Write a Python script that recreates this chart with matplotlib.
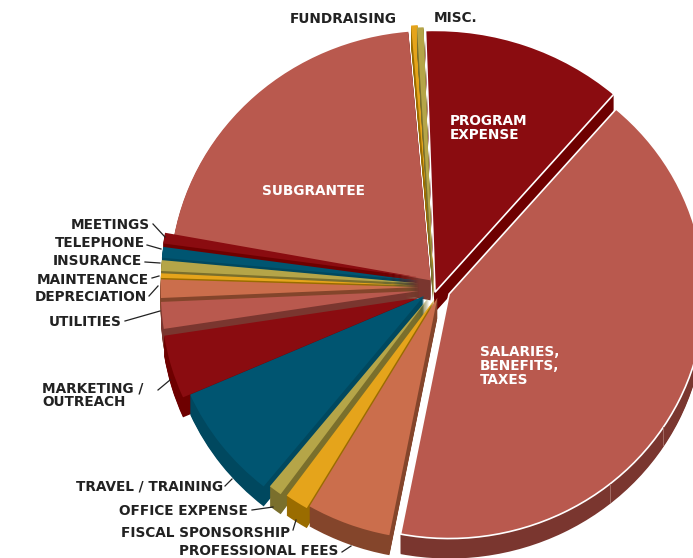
import matplotlib
matplotlib.use("Agg")
import numpy as np
import matplotlib.pyplot as plt
from matplotlib.patches import Wedge

W, H = 693, 558

# slices, clockwise starting at the top
names = ["PROGRAM\nEXPENSE", "SALARIES,\nBENEFITS,\nTAXES", "PROFESSIONAL FEES", "FISCAL SPONSORSHIP",
         "OFFICE EXPENSE", "TRAVEL / TRAINING", "MARKETING /\nOUTREACH", "UTILITIES", "DEPRECIATION",
         "MAINTENANCE", "INSURANCE", "TELEPHONE", "MEETINGS", "SUBGRANTEE", "FUNDRAISING", "MISC."]
values = [11.9, 41.7, 5.4, 1.5, 0.85, 7.6, 4.15, 1.75, 1.2, 0.3, 0.7, 0.7, 0.7, 20.75, 0.4, 0.4]
explode = [0.012, 0.065, 0.05, 0.04, 0.03, 0.02, 0.04, 0.04, 0.04, 0.04, 0.04, 0.04, 0.04, 0.02, 0.02, 0.01]
# per slice fine placement in pixels (right, down) and radius factor, the original has some perspective
nudge = [(2, 8), (2, 0), (10, -1), (9, 3), (2, 4), (-4, 6), (-3, 8), (-3, 3), (-3, 0), (-3, -1), (-3, -3),
         (-3, -5), (-3, -8), (2, -3), (2, -3), (1, -3)]
scale = [1.06, 0.99, 0.98, 0.985, 0.985, 0.99, 1.0, 1.0, 1.0, 1.0, 1.0, 1.0, 1.0, 1.01, 1.03, 1.03]

red, dark, teal, olive, orange, clay = "#B9594E", "#8A0C10", "#005571", "#B5A548", "#E5A41B", "#CB6E4C"
side_red, side_dark, side_teal, side_olive, side_orange, side_clay = "#7A362F", "#6E0000", "#00485F", "#7A6F2C", "#9A6C00", "#84452B"
colors = [dark, red, clay, orange, olive, teal, dark, red, clay, orange, olive, teal, dark, red, orange, olive]
sides = [side_dark, side_red, side_clay, side_orange, side_olive, side_teal, side_dark, side_red, side_clay,
         side_orange, side_olive, side_teal, side_dark, side_red, side_orange, side_olive]

# label position in pixels (x, y, ha), leader line start and end in pixels
label_pos = {
    "MEETINGS": (150, 225, "right", (153, 224), (165, 237)),
    "TELEPHONE": (145, 243, "right", (147, 245), (161, 249)),
    "INSURANCE": (142, 261, "right", (145, 262), (160, 263)),
    "MAINTENANCE": (149, 280, "right", (152, 278), (159, 276)),
    "DEPRECIATION": (147, 297, "right", (149, 296), (158, 286)),
    "UTILITIES": (122, 322, "right", (125, 321), (160, 311)),
    "MARKETING /\nOUTREACH": (42, 395, "left", (158, 390), (170, 380)),
    "TRAVEL / TRAINING": (223, 486, "right", (225, 486), (232, 479)),
    "OFFICE EXPENSE": (248, 511, "right", (252, 510), (273, 507)),
    "FISCAL SPONSORSHIP": (290, 533, "right", (293, 530), (296, 520)),
    "PROFESSIONAL FEES": (338, 551, "right", (342, 552), (351, 546)),
    "FUNDRAISING": (397, 19, "right", None, None),
    "MISC.": (434, 18, "left", None, None),
}
inside_pos = {
    "SUBGRANTEE": (313, 191, "center"),
    "PROGRAM\nEXPENSE": (450, 128, "left"),
    "SALARIES,\nBENEFITS,\nTAXES": (480, 366, "left"),
}

CX, CY, RX, RY = 432, 287, 258, 247
DEPTH = 20
FONT = 9.8
rim_marks = [141, 123]  # facet lines on the salaries rim, degrees clockwise from the top

fig = plt.figure(figsize=(W / 100, H / 100), dpi=100)
ax = fig.add_axes([0, 0, 1, 1])
wedges, _ = ax.pie(values, startangle=92, counterclock=False, explode=explode, radius=1)
ax.set_aspect("auto")
ax.set_xlim(-CX / RX, (W - CX) / RX)
ax.set_ylim((CY - H) / RY, CY / RY)
ax.axis("off")


def draw_order(k):
    # back to front, the pie is seen from above
    w = wedges[k]
    mid = (w.theta1 + w.theta2) / 2
    return w.center[1] + np.sin(np.radians(mid))


order = sorted(range(len(wedges)), key=lambda k: -draw_order(k))
z = 1
for k in order:
    w = wedges[k]
    w.set_visible(False)
    cx = w.center[0] + nudge[k][0] / RX
    cy = w.center[1] - nudge[k][1] / RY
    r = w.r * scale[k]
    for d in range(DEPTH, 0, -1):
        ax.add_patch(Wedge((cx, cy - d / RY), r, w.theta1, w.theta2,
                           facecolor=sides[k], edgecolor="none", zorder=z))
    z += 1
    edge = "white" if k in (0, 1) else "none"
    ax.add_patch(Wedge((cx, cy), r, w.theta1, w.theta2, facecolor=colors[k], edgecolor=edge, lw=1.2, zorder=z))
    z += 1
    if k == 1:
        for a in rim_marks:
            mx = cx + r * np.sin(np.radians(a))
            my = cy + r * np.cos(np.radians(a))
            ax.plot([mx, mx], [my, my - (DEPTH - 2) / RY], color="#A8736C", lw=0.6, zorder=z)
        z += 1

text_color = "#222222"
for name, (x, y, ha, a, b) in label_pos.items():
    ax.text(x / W, 1 - y / H, name, transform=ax.transAxes, ha=ha, va="center", color=text_color,
            fontsize=FONT, fontweight="bold", linespacing=1.0, zorder=50)
    if a is not None:
        ax.plot([a[0] / W, b[0] / W], [1 - a[1] / H, 1 - b[1] / H], transform=ax.transAxes,
                color=text_color, lw=0.9, zorder=50)
for name, (x, y, ha) in inside_pos.items():
    ax.text(x / W, 1 - y / H, name, transform=ax.transAxes, ha=ha, va="center", color="white",
            fontsize=FONT, fontweight="bold", linespacing=1.0, zorder=50)

fig.savefig("out.png", dpi=100)
